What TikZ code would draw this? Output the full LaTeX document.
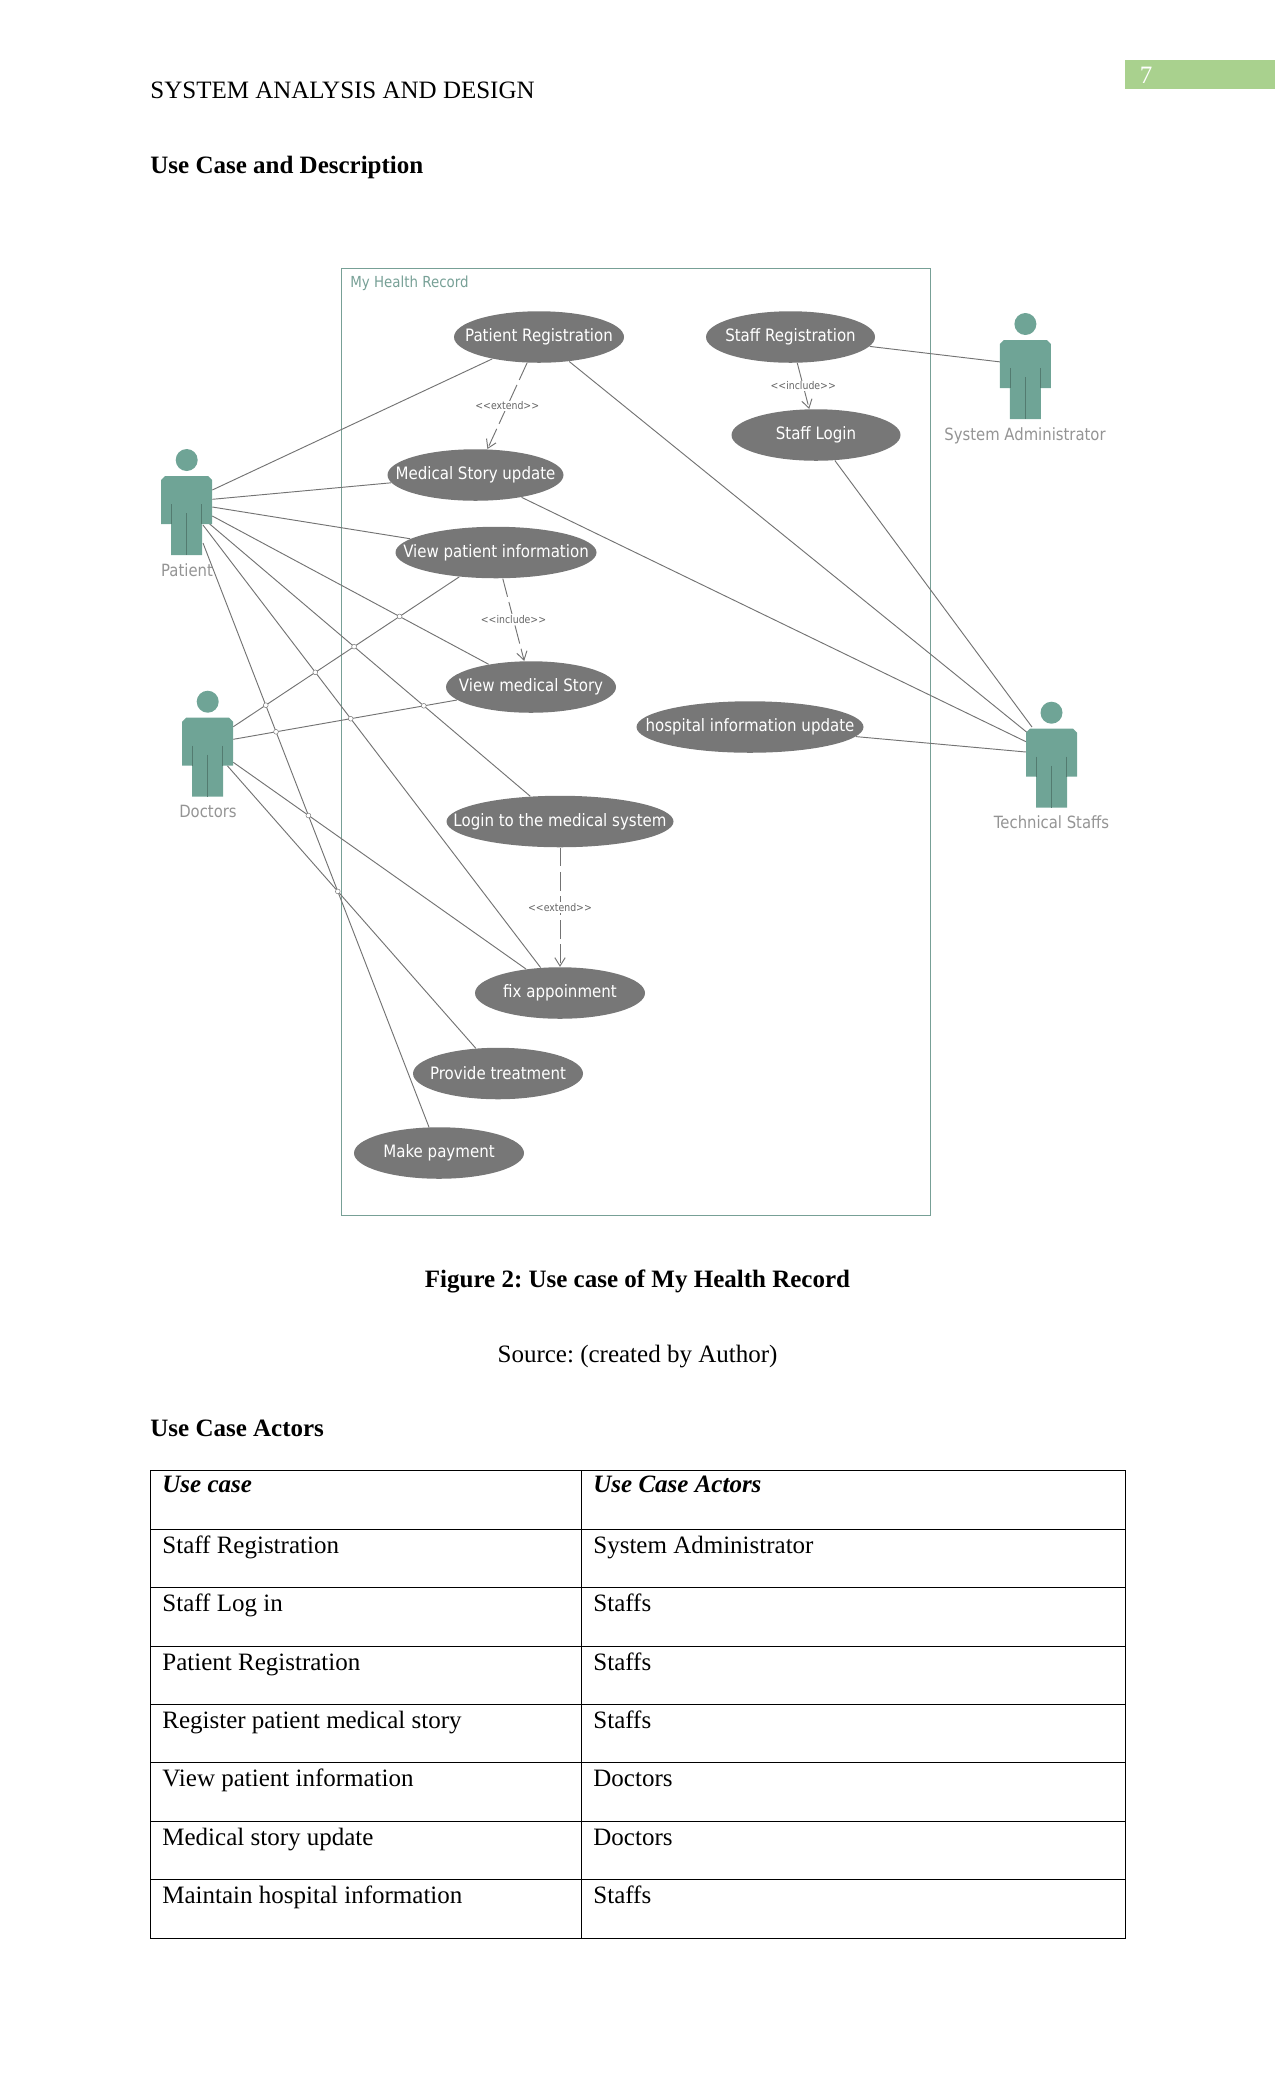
\documentclass[tikz,border=0pt]{standalone}
\usepackage{fontspec}
\setmainfont{Liberation Serif}
\newfontfamily\umlfont[FakeStretch=0.88]{DejaVu Sans}
\usetikzlibrary{arrows.meta,shapes.geometric}

\definecolor{actorgreen}{HTML}{6FA496}
\definecolor{casegray}{HTML}{777777}
\definecolor{framegreen}{HTML}{77A096}
\definecolor{tabgreen}{HTML}{A9D18E}

\tikzset{
    usecase/.style={ellipse, fill=casegray, text=white, font=\umlfont\fontsize{8.2}{10}\selectfont, inner sep=0pt, minimum height=51.5*0.48pt, minimum width=#1*0.48pt},
    assoc/.style={draw=black!55, line width=0.45pt},
    hop/.style={draw=black!50, fill=white, line width=0.25pt},
    depend/.style={draw=black!55, line width=0.45pt, dash pattern=on 9pt off 2.6pt, -{Straight Barb[length=4pt,width=5pt]}},
    stereo/.style={text=black!60, font=\umlfont\fontsize{5.1}{6}\selectfont, fill=white, inner sep=0.6pt},
    actorname/.style={text=black!42, font=\umlfont\fontsize{8.1}{10}\selectfont},
    body/.style={font=\fontsize{12}{14}\selectfont, anchor=base west, inner sep=0pt},
    rowline/.style={draw=black, line width=0.45pt},
}
% one stick figure, centred on its head
\newcommand{\actorfig}[2]{
    \fill[actorgreen] (#1,#2) circle (11);
    \fill[actorgreen] (#1-25.5,#2+20) -- ++(4,-4) -- ++(43,0) -- ++(4,4)
        -- ++(0,44) -- ++(-10,0) -- ++(0,31) -- ++(-31,0) -- ++(0,-31) -- ++(-10,0) -- cycle;
    \draw[black!25!actorgreen, line width=0.3pt] (#1,#2+53) -- ++(0,42) (#1-15,#2+44) -- ++(0,20) (#1+15,#2+44) -- ++(0,20);
}
% keeps the label from stretching its ellipse
\newcommand{\ucname}[1]{\makebox[0pt]{#1}}

\begin{document}
\frenchspacing
\begin{tikzpicture}[x=0.48pt, y=-0.48pt]
    \useasboundingbox (0,0) rectangle (1275,2100);

    % page head
    \fill[tabgreen] (1125,60) rectangle (1275,89);
    \node[text=white, font=\fontsize{12}{14}\selectfont, inner sep=0pt] (pageno) at (1146,75) {7};
    \node[body] (head) at (150,98.5) {SYSTEM ANALYSIS AND DESIGN};
    \node[body, font=\fontsize{12}{14}\selectfont\bfseries] (title) at (150,173) {Use Case and Description};

    % system frame
    \node[draw=framegreen, line width=0.7pt, minimum width=589*0.48pt, minimum height=947.5*0.48pt, inner sep=0pt] (system) at (636,742) {};
    \node[text=framegreen, font=\umlfont\fontsize{7.3}{8}\selectfont, anchor=west, inner sep=0pt] (sysname) at (350,283) {My Health Record};

    % use cases
    \node[usecase=170] (patreg) at (539,337) {\ucname{Patient Registration}};
    \node[usecase=169] (staffreg) at (790.5,337) {\ucname{Staff Registration}};
    \node[usecase=169] (stafflogin) at (816,435) {\ucname{Staff Login}};
    \node[usecase=176] (medupdate) at (475.5,475) {\ucname{Medical Story update}};
    \node[usecase=201] (viewpat) at (496,552.5) {\ucname{View patient information}};
    \node[usecase=170] (viewmed) at (531,687) {\ucname{View medical Story}};
    \node[usecase=227] (hospital) at (750,727) {\ucname{hospital information update}};
    \node[usecase=227] (login) at (560,821.5) {\ucname{Login to the medical system}};
    \node[usecase=170] (fixapp) at (560,993) {\ucname{fix appoinment}};
    \node[usecase=170] (treat) at (498,1073.5) {\ucname{Provide treatment}};
    \node[usecase=170] (payment) at (439,1153) {\ucname{Make payment}};

    % actor names and line ends
    \node[actorname] (patient) at (187,570) {Patient};
    \node[actorname] (doctors) at (208,811.5) {Doctors};
    \node[actorname] (admin) at (1025,435.5) {System Administrator};
    \node[actorname] (technical) at (1051.5,822) {Technical Staffs};
    \coordinate (p1) at (212.3,490);
    \coordinate (p2) at (212.3,499.3);
    \coordinate (p3) at (212.3,507);
    \coordinate (p4) at (212.3,516);
    \coordinate (p5) at (205,520);
    \coordinate (p6) at (203,525);
    \coordinate (p7) at (203,543);
    \coordinate (d1) at (233.3,726.7);
    \coordinate (d2) at (233.3,739.3);
    \coordinate (d3) at (233.3,762.3);
    \coordinate (d4) at (227.3,765.7);
    \coordinate (a1) at (1001,362);
    \coordinate (t1) at (1032,727);
    \coordinate (t2) at (1027.4,732.7);
    \coordinate (t3) at (1026,741.7);
    \coordinate (t4) at (1026,752);

    % associations
    \draw[assoc] (p1) -- (patreg);
    \draw[assoc] (p2) -- (medupdate);
    \draw[assoc] (p3) -- (viewpat);
    \draw[assoc] (p4) -- (viewmed);
    \draw[assoc] (p5) -- (login);
    \draw[assoc] (p6) -- (fixapp);
    \draw[assoc] (p7) -- (payment);
    \draw[assoc] (d1) -- (viewpat);
    \draw[assoc] (d2) -- (viewmed);
    \draw[assoc] (d3) -- (fixapp);
    \draw[assoc] (d4) -- (treat);
    \draw[assoc] (staffreg) -- (a1);
    \draw[assoc] (stafflogin) -- (t1);
    \draw[assoc] (patreg) -- (t2);
    \draw[assoc] (medupdate) -- (t3);
    \draw[assoc] (hospital) -- (t4);

    % small hops where the doctor lines cross
    \foreach \hx/\hy in {399.6/616.4, 354.1/646.6, 315.3/672.3, 265.8/705.2, 276/731.8,
        350.7/718.7, 423.8/705.8, 308.4/815.5, 337.8/891.4}
        \draw[hop] (\hx,\hy) circle (2.4);

    % dependencies
    \draw[depend] (patreg) -- node[stereo] (lext1) {<<extend>>} (medupdate);
    \draw[depend] (staffreg) -- node[stereo] (linc1) {<<include>>} (stafflogin);
    \draw[depend] (viewpat) -- node[stereo] (linc2) {<<include>>} (viewmed);
    \draw[depend] (login) -- node[stereo] (lext2) {<<extend>>} (fixapp);

    % actors go over the line ends
    \actorfig{186.7}{460}
    \actorfig{207.7}{701.7}
    \actorfig{1025.4}{324}
    \actorfig{1051.5}{712.7}

    % caption
    \node[font=\fontsize{12}{14}\selectfont\bfseries, anchor=base, inner sep=0pt] (figcap) at (637.5,1287.5) {Figure 2: Use case of My Health Record};
    \node[font=\fontsize{12}{14}\selectfont, anchor=base, inner sep=0pt] (source) at (637.5,1362.5) {Source: (created by Author)};
    \node[body, font=\fontsize{12}{14}\selectfont\bfseries] (actors) at (150,1436.5) {Use Case Actors};

    % table
    \draw[rowline] (150,1470) rectangle (1125.5,1938);
    \draw[rowline] (581.5,1470) -- (581.5,1938);
    \foreach \ypos in {1529,1587,1646,1704,1762,1821,1879}
        \draw[rowline] (150,\ypos) -- (1125.5,\ypos);
    \node[body, font=\fontsize{12}{14}\selectfont\bfseries\itshape] (headcase) at (162,1492.5) {Use case};
    \node[body, font=\fontsize{12}{14}\selectfont\bfseries\itshape] (headactor) at (593,1492.5) {Use Case Actors};
    \foreach \ypos/\ucase/\uactor in {
        1553/Staff Registration/System Administrator,
        1611.5/Staff Log in/Staffs,
        1670.5/Patient Registration/Staffs,
        1728.5/Register patient medical story/Staffs,
        1786.5/View patient information/Doctors,
        1845.5/Medical story update/Doctors,
        1903.5/Maintain hospital information/Staffs}{
        \node[body] at (162,\ypos) {\ucase};
        \node[body] at (593,\ypos) {\uactor};
    }
\end{tikzpicture}
\end{document}
